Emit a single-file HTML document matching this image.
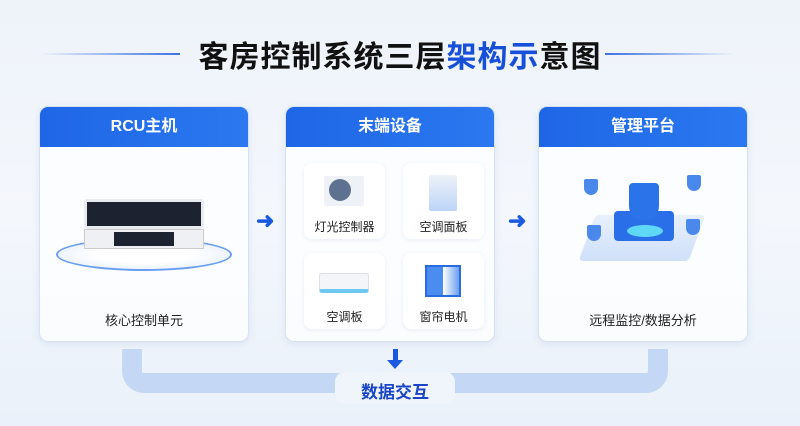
<!DOCTYPE html>
<html><head><meta charset="utf-8"><style>
*{margin:0;padding:0;box-sizing:border-box}
body{width:800px;height:426px;overflow:hidden;background:linear-gradient(180deg,#eef3fa 0%,#f4f7fc 50%,#eaf1fa 100%);font-family:"Liberation Sans","Noto Sans CJK SC",sans-serif;position:relative}
.abs{position:absolute}
.title{left:0;width:800px;top:32px;text-align:center;font-size:30px;font-weight:bold;color:#111;letter-spacing:1px}
.title span{color:#1750d8}
.card{width:210px;height:236px;top:106px;background:rgba(255,255,255,.75);border:1px solid #d6e2f3;border-radius:9px;overflow:hidden;box-shadow:0 2px 8px rgba(80,120,200,.12)}
.hd{height:40px;background:linear-gradient(90deg,#1e66e6,#2b78f0);color:#fff;font-weight:bold;font-size:16px;text-align:center;line-height:40px}
.lab{position:absolute;left:0;width:100%;text-align:center;font-size:13px;color:#222}
.sub{position:absolute;width:81px;height:76px;background:#fff;border-radius:8px;box-shadow:0 1px 4px rgba(80,120,200,.12)}
.sub .lab{top:55px;font-size:12px}
.arr{color:#1a5ae0;font-size:22px;font-weight:bold}
.sh{position:absolute;width:14px;height:16px;background:#4a88ec;border-radius:2px 2px 7px 7px}
</style></head><body>
<div class="abs" style="left:40px;top:53px;width:140px;height:2px;background:linear-gradient(90deg,transparent,#3a72e0)"></div>
<div class="abs" style="left:605px;top:53px;width:130px;height:2px;background:linear-gradient(90deg,#3a72e0,transparent)"></div>
<div class="abs title">客房控制系统三层<span>架构示</span>意图</div>

<!-- bracket -->
<div class="abs" style="left:122px;top:349px;width:546px;height:44px;border:20px solid #c4d8f6;border-top:none;border-radius:0 0 22px 22px"></div>
<div class="abs" style="left:335px;top:372px;width:120px;height:32px;background:#f0f5fc;border-radius:10px"></div>
<div class="abs" style="left:0;width:790px;top:378px;text-align:center;font-size:17px;font-weight:bold;color:#1a45c8">数据交互</div>
<div class="abs" style="left:393px;top:349px;width:5px;height:12px;background:#1a5ae0"></div>
<div class="abs" style="left:387px;top:360px;width:0;height:0;border-left:8px solid transparent;border-right:8px solid transparent;border-top:9px solid #1a5ae0"></div>

<div class="abs card" style="left:39px">
 <div class="hd">RCU主机</div>
 <div class="abs" style="left:16px;top:131px;width:176px;height:33px;border-radius:50%;border:2px solid #6a9ef0;background:radial-gradient(ellipse,#fff 40%,#dde9fb)"></div>
 <div class="abs" style="left:44px;top:92px;width:120px;height:30px;background:#1c2230;border:3px solid #e8ebf0;border-radius:3px"></div>
 <div class="abs" style="left:44px;top:122px;width:120px;height:20px;background:#eef0f3;border:1px solid #ccc"></div>
 <div class="abs" style="left:74px;top:125px;width:60px;height:14px;background:#1c2230"></div>
 <div class="lab" style="top:203px">核心控制单元</div>
</div>

<div class="abs arr" style="left:256px;top:208px">➜</div>

<div class="abs card" style="left:285px">
 <div class="hd">末端设备</div>
 <div class="sub" style="left:18px;top:56px"><div class="abs" style="left:20px;top:13px;width:40px;height:30px;background:#eef1f5;border-radius:2px"></div><div class="abs" style="left:25px;top:16px;width:22px;height:22px;border-radius:50%;background:#5d7291"></div><div class="lab">灯光控制器</div></div>
 <div class="sub" style="left:117px;top:56px"><div class="abs" style="left:26px;top:12px;width:28px;height:36px;background:linear-gradient(#eef2f8,#bcd4f8);border-radius:2px"></div><div class="lab">空调面板</div></div>
 <div class="sub" style="left:18px;top:146px"><div class="abs" style="left:15px;top:20px;width:50px;height:20px;background:#f3f5f8;border:1px solid #dde;border-bottom:4px solid #6ec8f0;border-radius:3px"></div><div class="lab">空调板</div></div>
 <div class="sub" style="left:117px;top:146px"><div class="abs" style="left:22px;top:12px;width:36px;height:32px;border:2px solid #2a6ce0;background:linear-gradient(90deg,#4a8cf0 50%,#fff 50%,#6aa0f0)"></div><div class="lab">窗帘电机</div></div>
</div>

<div class="abs arr" style="left:508px;top:208px">➜</div>

<div class="abs card" style="left:538px">
 <div class="hd">管理平台</div>
 <div class="abs" style="left:48px;top:108px;width:110px;height:46px;transform:skewX(-20deg);background:linear-gradient(#e8f0fc,#cfe0fa);border-radius:4px"></div>
 <div class="abs" style="left:75px;top:104px;width:60px;height:30px;background:#2a6ee8;border-radius:4px"></div>
 <div class="abs" style="left:88px;top:118px;width:36px;height:12px;border-radius:50%;background:#5fd8f8"></div>
 <div class="abs" style="left:90px;top:76px;width:30px;height:38px;background:#2a73e8;border-radius:4px 4px 15px 15px"></div>
 <div class="sh" style="left:45px;top:72px"></div>
 <div class="sh" style="left:148px;top:68px"></div>
 <div class="sh" style="left:48px;top:118px"></div>
 <div class="sh" style="left:147px;top:112px"></div>
 <div class="lab" style="top:203px">远程监控/数据分析</div>
</div>
</body></html>
